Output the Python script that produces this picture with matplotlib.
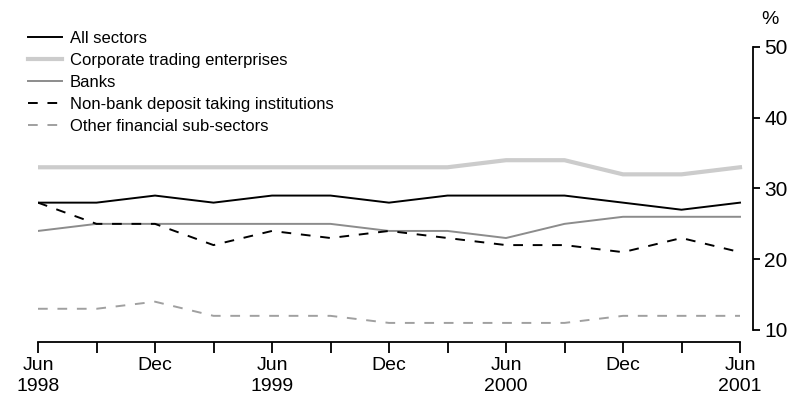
import matplotlib
matplotlib.use("Agg")
import matplotlib.pyplot as plt

quarters = ["Jun 1998", "Sep 1998", "Dec 1998", "Mar 1999", "Jun 1999", "Sep 1999",
            "Dec 1999", "Mar 2000", "Jun 2000", "Sep 2000", "Dec 2000", "Mar 2001", "Jun 2001"]
all_sectors = [28, 28, 29, 28, 29, 29, 28, 29, 29, 29, 28, 27, 28]
corporate = [33, 33, 33, 33, 33, 33, 33, 33, 34, 34, 32, 32, 33]
banks = [24, 25, 25, 25, 25, 25, 24, 24, 23, 25, 26, 26, 26]
non_bank = [28, 25, 25, 22, 24, 23, 24, 23, 22, 22, 21, 23, 21]
other_fin = [13, 13, 14, 12, 12, 12, 11, 11, 11, 11, 12, 12, 12]
tick_labels = ["Jun\n1998", "", "Dec", "", "Jun\n1999", "", "Dec", "", "Jun\n2000", "", "Dec", "", "Jun\n2001"]
y_ticks = [10, 20, 30, 40, 50]

plt.rcParams["font.family"] = ["Liberation Sans", "DejaVu Sans"]

fig = plt.figure(figsize=(7.92, 3.99), dpi=100)
W, H = 792, 399
left, right, top, bottom = 38, 753, 47, 342
ax = fig.add_axes([left / W, 1 - bottom / H, (right - left) / W, (bottom - top) / H])

x = list(range(len(quarters)))
l1, = ax.plot(x, all_sectors, color="black", lw=1.4, label="All sectors")
l2, = ax.plot(x, corporate, color="#cccccc", lw=3.0, label="Corporate trading enterprises")
l3, = ax.plot(x, banks, color="#8c8c8c", lw=1.4, label="Banks")
l4, = ax.plot(x, non_bank, color="black", lw=1.4, ls=(0, (5, 5)), label="Non-bank deposit taking institutions")
l5, = ax.plot(x, other_fin, color="#a0a0a0", lw=1.4, ls=(0, (5, 5)), label="Other financial sub-sectors")

ax.set_xlim(0, 12 + 13 / 58.5)
ax.set_ylim(10 - 12 / 7.07, 50)

for s in ["top", "left"]:
    ax.spines[s].set_visible(False)
ax.spines["bottom"].set_bounds(0, 12)
ax.spines["right"].set_bounds(10, 50)
ax.spines["bottom"].set_linewidth(1.3)
ax.spines["right"].set_linewidth(1.3)

ax.yaxis.tick_right()
ax.set_yticks(y_ticks)
ax.set_yticklabels([str(v) for v in y_ticks], fontsize=15)
ax.tick_params(axis="y", direction="out", length=5, width=1.3, pad=3)

ax.set_xticks(x)
ax.set_xticklabels(tick_labels, fontsize=14, linespacing=1.28)
ax.tick_params(axis="x", direction="out", length=8, width=1.3, pad=3)

fig.text(770 / W, 1 - 20 / H, "%", fontsize=14, ha="center", va="center")

leg = fig.legend(handles=[l1, l2, l3, l4, l5], loc="upper left",
                 bbox_to_anchor=(28 / W, 1 - 31 / H), frameon=False, fontsize=12,
                 handlelength=2.04, handletextpad=0.48, labelspacing=0.42, borderpad=0,
                 borderaxespad=0)

fig.savefig("out.png", dpi=100)
